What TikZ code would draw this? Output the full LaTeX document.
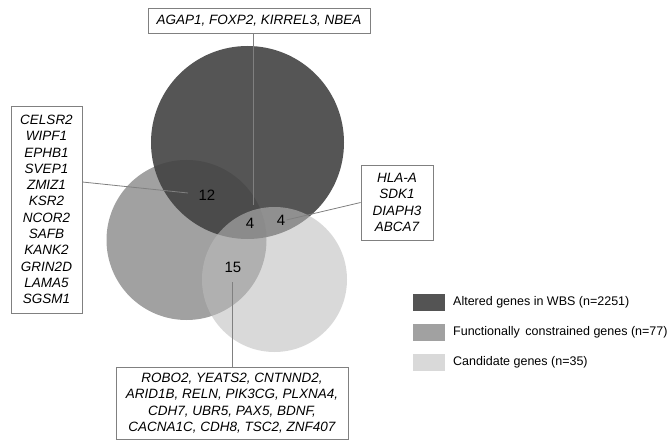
\documentclass[tikz,border=0pt]{standalone}
\usepackage{fontspec}
\setmainfont{Liberation Sans}
\usepackage{tikz}
\definecolor{wbsgray}{gray}{0.33}
\definecolor{constgray}{gray}{0.63}
\definecolor{candgray}{gray}{0.85}
\definecolor{wbsfill}{gray}{0.26}
\definecolor{candfill}{gray}{0.74}
\definecolor{linegray}{gray}{0.5}
\newcommand{\genefont}{\fontsize{13.5}{16.3}\selectfont\itshape}
\newcommand{\countfont}{\fontsize{15}{17}\selectfont}
\newcommand{\keyfont}{\fontsize{12.5}{15}\selectfont}
\tikzset{
    genebox/.style={draw=linegray, line width=0.8pt, align=center, inner sep=0pt, font=\genefont},
    count/.style={inner sep=1pt, font=\countfont},
    leader/.style={draw=linegray, line width=0.8pt},
    keybox/.style={minimum width=32pt, minimum height=17pt, inner sep=0pt},
    keytext/.style={anchor=west, inner sep=0pt, font=\keyfont}}

\begin{document}
\begin{tikzpicture}[x=1pt, y=-1pt]
    \useasboundingbox (0,0) rectangle (667,441);

    % circles
    \fill[constgray] (186.5,240) circle (80);
    \fill[wbsfill, fill opacity=0.9] (247.5,142.5) circle (96.5);
    \fill[candfill, fill opacity=0.57] (274.5,279.5) circle (72.5);

    % counts
    \node[count] (N12) at (207,195) {12};
    \node[count] (N4a) at (250,223) {4};
    \node[count] (N4b) at (281,220) {4};
    \node[count] (N15) at (233,267) {15};

    % gene lists
    \node[genebox, minimum width=222, minimum height=25] (T) at (259,20.5) {AGAP1, FOXP2, KIRREL3, NBEA};
    \node[genebox, minimum width=71, minimum height=207] (L) at (46.5,209.5) {CELSR2\\WIPF1\\EPHB1\\SVEP1\\ZMIZ1\\KSR2\\NCOR2\\SAFB\\KANK2\\GRIN2D\\LAMA5\\SGSM1};
    \node[genebox, minimum width=72, minimum height=75] (R) at (397,202.5) {HLA-A\\SDK1\\DIAPH3\\ABCA7};
    \node[genebox, minimum width=232, minimum height=72] (B) at (232,403) {ROBO2, YEATS2, CNTNND2,\\ARID1B, RELN, PIK3CG, PLXNA4,\\CDH7, UBR5, PAX5, BDNF,\\CACNA1C, CDH8, TSC2, ZNF407};

    \coordinate (Tend) at (253,205);
    \coordinate (Lstart) at (L.east |- 0,182);
    \coordinate (Lend) at (188,193);
    \coordinate (Bstart) at (232,282);

    \draw[leader] (T.south -| Tend) -- (Tend);
    \draw[leader] (Lstart) -- (Lend);
    \draw[leader] (R.west) -- (N4b.east);
    \draw[leader] (Bstart) -- (B.north -| Bstart);

    % key
    \node[keybox, fill=wbsgray] (K1) at (429,302.5) {};
    \node[keybox, fill=constgray] (K2) at (429,332) {};
    \node[keybox, fill=candgray] (K3) at (429,362) {};
    \node[keytext] (K1t) at (453,302.5) {Altered genes in WBS (n=2251)};
    \node[keytext] (K2t) at (453,332) {Functionally\, constrained genes (n=77)};
    \node[keytext] (K3t) at (453,362) {Candidate genes (n=35)};

\end{tikzpicture}
\end{document}
